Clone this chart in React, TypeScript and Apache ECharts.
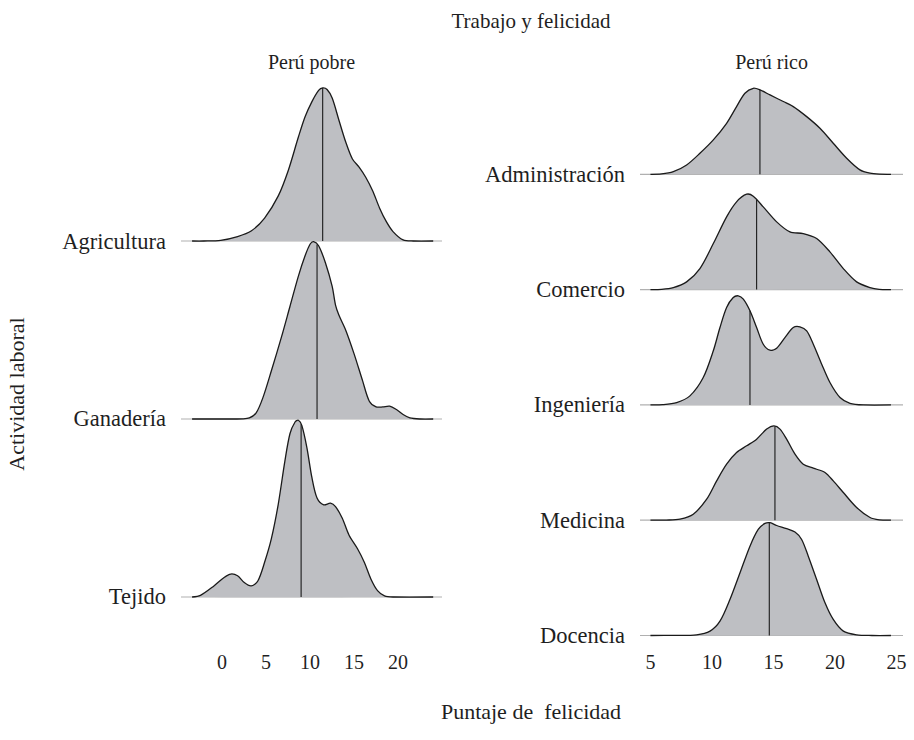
import React, { useEffect, useRef } from "react";
import * as echarts from "echarts";

// Ridge categories, bottom to top
const leftCategories = ["Tejido", "Ganadería", "Agricultura"];
const rightCategories = ["Docencia", "Medicina", "Ingeniería", "Comercio", "Administración"];

const leftTicks = [0, 5, 10, 15, 20];
const rightTicks = [5, 10, 15, 20, 25];

const chartTitle = "Trabajo y felicidad";
const leftPanelTitle = "Perú pobre";
const rightPanelTitle = "Perú rico";
const xTitle = "Puntaje de\u00a0 felicidad";
const yTitle = "Actividad laboral";

// Density curves: [score, relative height (1 = ridge spacing)]
const agricultura: number[][] = [
  [-3.4, 0], [-2.07, 0], [-0.15, 0.004], [1.77, 0.025], [3.31, 0.056], [4.84, 0.129],
  [6.38, 0.252], [7.52, 0.395], [8.68, 0.584], [9.44, 0.698], [10.22, 0.783], [10.98, 0.846],
  [11.44, 0.86], [11.94, 0.851], [12.52, 0.803], [13.28, 0.68], [14.06, 0.556], [14.82, 0.461],
  [15.6, 0.414], [16.35, 0.357], [17.13, 0.281], [17.9, 0.186], [18.66, 0.11], [19.43, 0.053],
  [20.58, 0.006], [21.73, 0], [24.0, 0],
];
const ganaderia: number[][] = [
  [-3.4, 0], [-0.15, 0], [2.4, 0.001], [3.11, 0.006], [3.88, 0.034], [4.65, 0.12], [5.61, 0.271],
  [6.76, 0.461], [7.72, 0.632], [8.68, 0.803], [9.44, 0.917], [10.02, 0.983], [10.41, 0.996],
  [10.98, 0.973], [11.75, 0.878], [12.52, 0.745], [12.9, 0.64], [13.28, 0.584], [14.06, 0.499],
  [15.01, 0.366], [15.98, 0.214], [16.74, 0.1], [17.51, 0.068], [18.27, 0.068], [19.05, 0.072],
  [19.82, 0.053], [20.58, 0.025], [21.35, 0.006], [22.5, 0], [24.0, 0],
];
const tejido: number[][] = [
  [-3.4, 0], [-2.45, 0.009], [-0.92, 0.062], [0.24, 0.11], [1.0, 0.129], [1.77, 0.119],
  [2.53, 0.081], [3.31, 0.062], [4.07, 0.09], [4.84, 0.195], [5.61, 0.328], [6.38, 0.518],
  [7.15, 0.765], [7.72, 0.917], [8.3, 0.983], [8.68, 0.993], [9.07, 0.964], [9.64, 0.841],
  [10.22, 0.67], [10.8, 0.556], [11.56, 0.518], [12.33, 0.527], [12.9, 0.508], [13.67, 0.442],
  [14.44, 0.347], [15.4, 0.271], [16.17, 0.195], [16.93, 0.1], [17.7, 0.034], [18.47, 0.006],
  [19.43, 0], [24.0, 0],
];
const administracion: number[][] = [
  [5.0, 0], [5.9, 0.003], [6.86, 0.023], [7.94, 0.081], [9.02, 0.182], [10.11, 0.298],
  [11.19, 0.442], [12.0, 0.587], [12.68, 0.703], [13.36, 0.746], [13.9, 0.732], [14.72, 0.688],
  [15.8, 0.631], [16.61, 0.587], [17.7, 0.5], [18.78, 0.399], [19.86, 0.269], [20.95, 0.139],
  [22.03, 0.038], [22.85, 0.009], [23.6, 0.001], [24.55, 0],
];
const comercio: number[][] = [
  [5.0, 0], [5.9, 0.002], [6.86, 0.017], [7.94, 0.067], [9.02, 0.182], [10.11, 0.399],
  [11.19, 0.631], [12.0, 0.761], [12.82, 0.827], [13.36, 0.81], [14.17, 0.717], [15.26, 0.587],
  [16.34, 0.5], [17.42, 0.486], [18.51, 0.443], [19.59, 0.327], [20.68, 0.182], [21.76, 0.067],
  [22.85, 0.017], [23.6, 0.002], [24.55, 0],
];
const ingenieria: number[][] = [
  [5.0, 0], [6.0, 0.002], [7.13, 0.02], [8.21, 0.078], [9.29, 0.237], [10.11, 0.469],
  [10.65, 0.671], [11.19, 0.845], [11.73, 0.931], [12.14, 0.946], [12.55, 0.917], [13.09, 0.816],
  [13.63, 0.671], [14.17, 0.526], [14.72, 0.474], [15.26, 0.492], [15.93, 0.584], [16.61, 0.671],
  [17.15, 0.677], [17.7, 0.642], [18.24, 0.526], [18.92, 0.353], [19.59, 0.194], [20.41, 0.064],
  [21.22, 0.014], [22.3, 0], [24.55, 0],
];
const medicina: number[][] = [
  [5.0, 0], [6.3, 0.001], [7.4, 0.009], [8.48, 0.052], [9.57, 0.182], [10.38, 0.341],
  [11.19, 0.486], [12.0, 0.587], [12.82, 0.645], [13.63, 0.703], [14.45, 0.79], [15.04, 0.818],
  [15.53, 0.79], [16.07, 0.703], [16.75, 0.573], [17.42, 0.486], [18.24, 0.451], [19.19, 0.414],
  [19.86, 0.341], [20.68, 0.24], [21.76, 0.11], [22.85, 0.023], [23.6, 0.003], [24.55, 0],
];
const docencia: number[][] = [
  [5.0, 0], [7.0, 0.001], [8.75, 0.006], [9.84, 0.038], [10.65, 0.124], [11.46, 0.312],
  [12.28, 0.544], [13.09, 0.775], [13.76, 0.92], [14.31, 0.972], [14.72, 0.978], [15.26, 0.954],
  [16.07, 0.926], [16.75, 0.897], [17.29, 0.833], [17.83, 0.688], [18.51, 0.486], [19.19, 0.283],
  [19.86, 0.139], [20.68, 0.038], [21.76, 0.006], [23.0, 0], [24.55, 0],
];

// Medians (vertical lines)
const leftMedians = [8.99, 10.8, 11.44]; // Tejido, Ganadería, Agricultura
const rightMedians = [14.66, 15.12, 13.09, 13.63, 13.9]; // Docencia..Administración

const leftCurves = [tejido, ganaderia, agricultura];
const rightCurves = [docencia, medicina, ingenieria, comercio, administracion];

const FONT = "'Liberation Serif', 'Times New Roman', serif";
const TEXT = "#1f1f1f";
const FILL = "#bebfc3";
const OUTLINE = "#1a1a1a";
const BASE = "#b0b0b0";

function interp(pts: number[][], x: number): number {
  for (let i = 0; i < pts.length - 1; i++) {
    const [x0, y0] = pts[i];
    const [x1, y1] = pts[i + 1];
    if (x >= x0 && x <= x1) {
      const t = x1 === x0 ? 0 : (x - x0) / (x1 - x0);
      return y0 + t * (y1 - y0);
    }
  }
  return 0;
}

function ridgeSeries(
  name: string,
  pts: number[][],
  median: number,
  k: number,
  axisIndex: number,
  xMin: number,
  xMax: number
) {
  return {
    type: "custom",
    name,
    xAxisIndex: axisIndex,
    yAxisIndex: axisIndex,
    data: [[median, k]],
    clip: false,
    silent: true,
    renderItem: (_params: any, api: any) => {
      const curve = pts.map(([x, h]) => api.coord([x, k + h]));
      const b0 = api.coord([xMin, k]);
      const b1 = api.coord([xMax, k]);
      const mh = interp(pts, median);
      const m0 = api.coord([median, k]);
      const m1 = api.coord([median, k + mh]);
      return {
        type: "group",
        children: [
          {
            type: "line",
            shape: { x1: b0[0], y1: b0[1], x2: b1[0], y2: b1[1] },
            style: { stroke: BASE, lineWidth: 1.2 },
          },
          {
            type: "polygon",
            shape: { points: curve, smooth: 0.3 },
            style: { fill: FILL, stroke: null },
          },
          {
            type: "polyline",
            shape: { points: curve, smooth: 0.3 },
            style: { stroke: OUTLINE, lineWidth: 1.3, fill: null },
          },
          {
            type: "line",
            shape: { x1: m0[0], y1: m0[1], x2: m1[0], y2: m1[1] },
            style: { stroke: OUTLINE, lineWidth: 1.1 },
          },
        ],
      };
    },
  };
}

export default function App() {
  const ref = useRef<HTMLDivElement>(null);
  useEffect(() => {
    document.body.style.margin = "0";
    if (!ref.current) return;
    const chart = echarts.init(ref.current, null, { renderer: "svg" });

    const leftXMin = -4.66, leftXMax = 25.0;
    const rightXMin = 4.15, rightXMax = 25.53;
    const leftYMin = -0.2697, leftYMax = 2.9326;
    const rightYMin = -0.0824, rightYMax = 4.861;

    const series: any[] = [];
    for (let k = leftCategories.length - 1; k >= 0; k--) {
      series.push(ridgeSeries(leftCategories[k], leftCurves[k], leftMedians[k], k, 0, leftXMin, leftXMax));
    }
    for (let k = rightCategories.length - 1; k >= 0; k--) {
      series.push(ridgeSeries(rightCategories[k], rightCurves[k], rightMedians[k], k, 1, rightXMin, rightXMax));
    }

    const labelStyle = { fontFamily: FONT, color: TEXT };
    const txt = (text: string, x: number, y: number, size: number, rotation = 0) => ({
      type: "text",
      x,
      y,
      rotation,
      silent: true,
      style: {
        text,
        fill: TEXT,
        fontFamily: FONT,
        fontSize: size,
        align: "center",
        verticalAlign: "middle",
        textAlign: "center",
        textVerticalAlign: "middle",
      },
    });

    chart.setOption({
      animation: false,
      backgroundColor: "#ffffff",
      grid: [
        { left: 181, top: 75, width: 261, height: 570 },
        { left: 640, top: 75, width: 263, height: 570 },
      ],
      xAxis: [
        {
          type: "value",
          gridIndex: 0,
          min: leftXMin,
          max: leftXMax,
          axisLine: { show: false },
          axisTick: { show: false },
          splitLine: { show: false },
          axisLabel: { ...labelStyle, fontSize: 20, margin: 7, customValues: leftTicks, formatter: (v: number) => String(v) },
        },
        {
          type: "value",
          gridIndex: 1,
          min: rightXMin,
          max: rightXMax,
          axisLine: { show: false },
          axisTick: { show: false },
          splitLine: { show: false },
          axisLabel: { ...labelStyle, fontSize: 20, margin: 7, customValues: rightTicks, formatter: (v: number) => String(v) },
        },
      ],
      yAxis: [
        {
          type: "value",
          gridIndex: 0,
          min: leftYMin,
          max: leftYMax,
          axisLine: { show: false },
          axisTick: { show: false },
          splitLine: { show: false },
          axisLabel: {
            ...labelStyle,
            fontSize: 22.5,
            margin: 15,
            customValues: leftCategories.map((_, i) => i),
            formatter: (v: number) => leftCategories[Math.round(v)] ?? "",
          },
        },
        {
          type: "value",
          gridIndex: 1,
          min: rightYMin,
          max: rightYMax,
          axisLine: { show: false },
          axisTick: { show: false },
          splitLine: { show: false },
          axisLabel: {
            ...labelStyle,
            fontSize: 22.5,
            margin: 15,
            customValues: rightCategories.map((_, i) => i),
            formatter: (v: number) => rightCategories[Math.round(v)] ?? "",
          },
        },
      ],
      graphic: [
        txt(chartTitle, 531, 21, 21),
        txt(leftPanelTitle, 311.5, 62, 20),
        txt(rightPanelTitle, 771.5, 62, 20),
        txt(xTitle, 531, 711, 22),
        txt(yTitle, 16, 394, 22, Math.PI / 2),
      ],
      series,
    });

    return () => chart.dispose();
  }, []);
  return <div ref={ref} style={{ width: 914, height: 740 }} />;
}
